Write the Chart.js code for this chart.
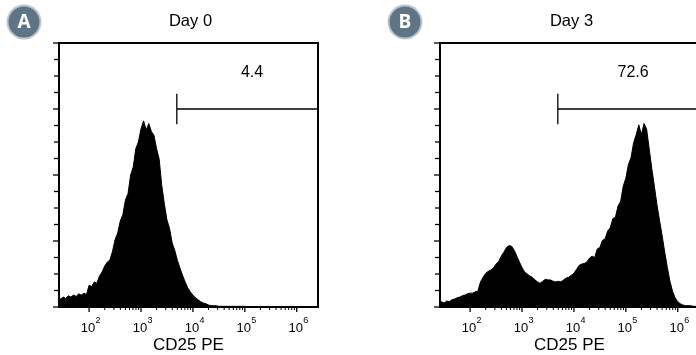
<!DOCTYPE html>
<html lang="en">
<head>
<meta charset="UTF-8">
<title>CD25 PE - Day 0 / Day 3</title>
<script src="https://cdn.jsdelivr.net/npm/chart.js"></script>
<style>
  html, body { margin: 0; padding: 0; background: #fff; overflow: hidden; }
  .wrap { position: relative; width: 696px; height: 355px; overflow: hidden; }
  canvas { position: absolute; top: 0; }
  #day0 { left: 0; }
  #day3 { left: 381px; }
</style>
</head>
<body>
<div class="wrap">
  <canvas id="day0" width="380" height="355"></canvas>
  <canvas id="day3" width="380" height="355"></canvas>
</div>
<script>
// bin centres, as log10 of CD25 PE intensity
const binExp = [
  1.40, 1.45, 1.50, 1.55, 1.60, 1.65, 1.70, 1.75, 1.80, 1.85, 1.90, 1.95,
  2.00, 2.05, 2.10, 2.15, 2.20, 2.25, 2.30, 2.35, 2.40, 2.45, 2.50, 2.55, 2.60, 2.65, 2.70, 2.75, 2.80, 2.85, 2.90, 2.95,
  3.00, 3.05, 3.10, 3.15, 3.20, 3.25, 3.30, 3.35, 3.40, 3.45, 3.50, 3.55, 3.60, 3.65, 3.70, 3.75, 3.80, 3.85, 3.90, 3.95,
  4.00, 4.05, 4.10, 4.15, 4.20, 4.25, 4.30, 4.35, 4.40, 4.45, 4.50, 4.55, 4.60, 4.65, 4.70, 4.75, 4.80, 4.85, 4.90, 4.95,
  5.00, 5.05, 5.10, 5.15, 5.20, 5.25, 5.30, 5.35, 5.40, 5.45, 5.50, 5.55, 5.60, 5.65, 5.70, 5.75, 5.80, 5.85, 5.90, 5.95,
  6.00, 6.05, 6.10, 6.15, 6.20, 6.25, 6.30, 6.35, 6.40
];

// event counts per bin
const countsDay0 = [
  14, 12, 15, 13, 17, 15, 18, 16, 20, 18, 21, 19,
  33, 31, 38, 36, 47, 53, 62, 68, 71, 84, 102, 112, 130, 140, 162, 172, 200, 212, 240, 250,
  270, 282, 268, 278, 266, 260, 240, 224, 184, 156, 132, 119, 97, 86, 71, 59, 48, 38, 29, 23,
  18, 14, 11, 8, 6, 5, 3, 2, 2, 2, 1, 1, 1, 1, 1, 1, 1, 1, 1, 1,
  1, 0, 0, 0, 0, 0, 0, 0, 0, 0, 0, 0, 0, 0, 0, 0, 0, 0, 0, 0,
  0, 0, 0, 0, 0, 0, 0, 0, 0
];

const countsDay3 = [
  6, 8, 6, 9, 8, 11, 12, 14, 15, 17, 18, 20,
  21, 21, 23, 24, 38, 45, 51, 54, 56, 59, 65, 69, 77, 83, 90, 93, 92, 86, 77, 68,
  60, 53, 50, 47, 45, 41, 38, 36, 39, 42, 41, 41, 39, 38, 39, 38, 41, 44, 45, 48,
  51, 57, 63, 65, 66, 68, 74, 77, 75, 88, 90, 101, 103, 115, 120, 134, 136, 153, 160, 183,
  195, 216, 226, 249, 261, 276, 261, 278, 270, 240, 210, 183, 155, 131, 108, 83, 60, 39, 24, 14,
  8, 5, 3, 2, 2, 2, 1, 1, 1
];

// axes
const xMinExp = 1.42;
const xMaxExp = 6.41;
const xDecades = [2, 3, 4, 5, 6];
const minorMult = [2, 3, 4, 5, 6, 7, 8, 9];
const yTickValues = [0, 25, 50, 75, 100, 125, 150, 175, 200, 225, 250, 275, 300, 325, 350, 375, 400];
const yMajorValues = [0, 100, 200, 300, 400];

// gates
const gateExp = 3.69;
const gateLevel = 300;
const gateHalf = 23;
const gateLabelExp = 5.14;
const gateLabelLevel = 348;

const FONT = '"Liberation Sans", Arial, Helvetica, sans-serif';

const facsDecor = {
  id: 'facsDecor',
  afterDatasetsDraw(chart, args, o) {
    const { ctx, chartArea: a, scales: { x, y } } = chart;
    ctx.save();
    ctx.strokeStyle = '#000';
    ctx.fillStyle = '#000';

    // frame
    ctx.lineWidth = 2;
    ctx.strokeRect(a.left, a.top, a.right - a.left, a.bottom - a.top);

    // y ticks, outside on the left
    ctx.lineWidth = 1.3;
    yTickValues.forEach(v => {
      const py = y.getPixelForValue(v);
      const len = yMajorValues.includes(v) ? 6 : 5;
      ctx.beginPath();
      ctx.moveTo(a.left - len, py);
      ctx.lineTo(a.left, py);
      ctx.stroke();
    });

    // x ticks + labels
    xDecades.forEach((d, i) => {
      const px = x.getPixelForValue(Math.pow(10, d));
      ctx.lineWidth = 1.3;
      ctx.beginPath();
      ctx.moveTo(px, a.bottom);
      ctx.lineTo(px, a.bottom + 5);
      ctx.stroke();
      if (i < xDecades.length - 1) {
        minorMult.forEach(m => {
          const mx = x.getPixelForValue(m * Math.pow(10, d));
          ctx.lineWidth = 1;
          ctx.beginPath();
          ctx.moveTo(mx, a.bottom);
          ctx.lineTo(mx, a.bottom + 3);
          ctx.stroke();
        });
      }
      ctx.font = '13px ' + FONT;
      ctx.textAlign = 'center';
      ctx.textBaseline = 'alphabetic';
      ctx.fillText('10', px - 1, a.bottom + 25);
      ctx.font = '9px ' + FONT;
      ctx.textAlign = 'left';
      ctx.fillText(String(d), px + 6.5, a.bottom + 16);
    });

    // axis title
    const cx = (a.left + a.right) / 2;
    ctx.font = '17px ' + FONT;
    ctx.textAlign = 'center';
    ctx.fillText('CD25 PE', cx, a.bottom + 43);

    // panel title
    ctx.font = '16.5px ' + FONT;
    ctx.fillText(o.title, cx + 2, 26);

    // gate
    const gx = x.getPixelForValue(Math.pow(10, gateExp));
    const gy = y.getPixelForValue(gateLevel);
    ctx.lineWidth = 1.3;
    ctx.beginPath();
    ctx.moveTo(gx, y.getPixelForValue(gateLevel + gateHalf));
    ctx.lineTo(gx, y.getPixelForValue(gateLevel - gateHalf));
    ctx.moveTo(gx, gy);
    ctx.lineTo(a.right, gy);
    ctx.stroke();
    ctx.font = '16px ' + FONT;
    ctx.fillText(o.gateLabel, x.getPixelForValue(Math.pow(10, gateLabelExp)), y.getPixelForValue(gateLabelLevel));

    // panel badge
    const bx = a.left - 35, by = 22;
    ctx.beginPath();
    ctx.arc(bx, by, 17.5, 0, Math.PI * 2);
    ctx.fillStyle = '#bcc6ce';
    ctx.fill();
    ctx.beginPath();
    ctx.arc(bx, by, 15.5, 0, Math.PI * 2);
    ctx.fillStyle = '#5f7586';
    ctx.fill();
    ctx.fillStyle = '#fff';
    ctx.font = 'bold 19px "Open Sans", ' + FONT;
    ctx.textAlign = 'center';
    ctx.textBaseline = 'middle';
    ctx.fillText(o.badge, bx, by + 1);

    ctx.restore();
  }
};

function makeHist(id, counts, title, badge, gateLabel) {
  const pts = binExp.map((e, i) => ({ x: Math.pow(10, e), y: counts[i] }));
  return new Chart(document.getElementById(id), {
    type: 'line',
    data: {
      datasets: [{
        data: pts,
        borderColor: '#000',
        backgroundColor: '#000',
        borderWidth: 1,
        pointRadius: 0,
        tension: 0,
        fill: 'origin'
      }]
    },
    options: {
      responsive: false,
      animation: false,
      layout: { padding: { left: 59, right: 62, top: 43, bottom: 48 } },
      plugins: {
        legend: { display: false },
        tooltip: { enabled: false },
        facsDecor: { title: title, badge: badge, gateLabel: gateLabel }
      },
      scales: {
        x: { type: 'logarithmic', min: Math.pow(10, xMinExp), max: Math.pow(10, xMaxExp), display: false },
        y: { type: 'linear', min: 0, max: 400, display: false }
      }
    },
    plugins: [facsDecor]
  });
}

makeHist('day0', countsDay0, 'Day 0', 'A', '4.4');
makeHist('day3', countsDay3, 'Day 3', 'B', '72.6');
</script>
</body>
</html>
